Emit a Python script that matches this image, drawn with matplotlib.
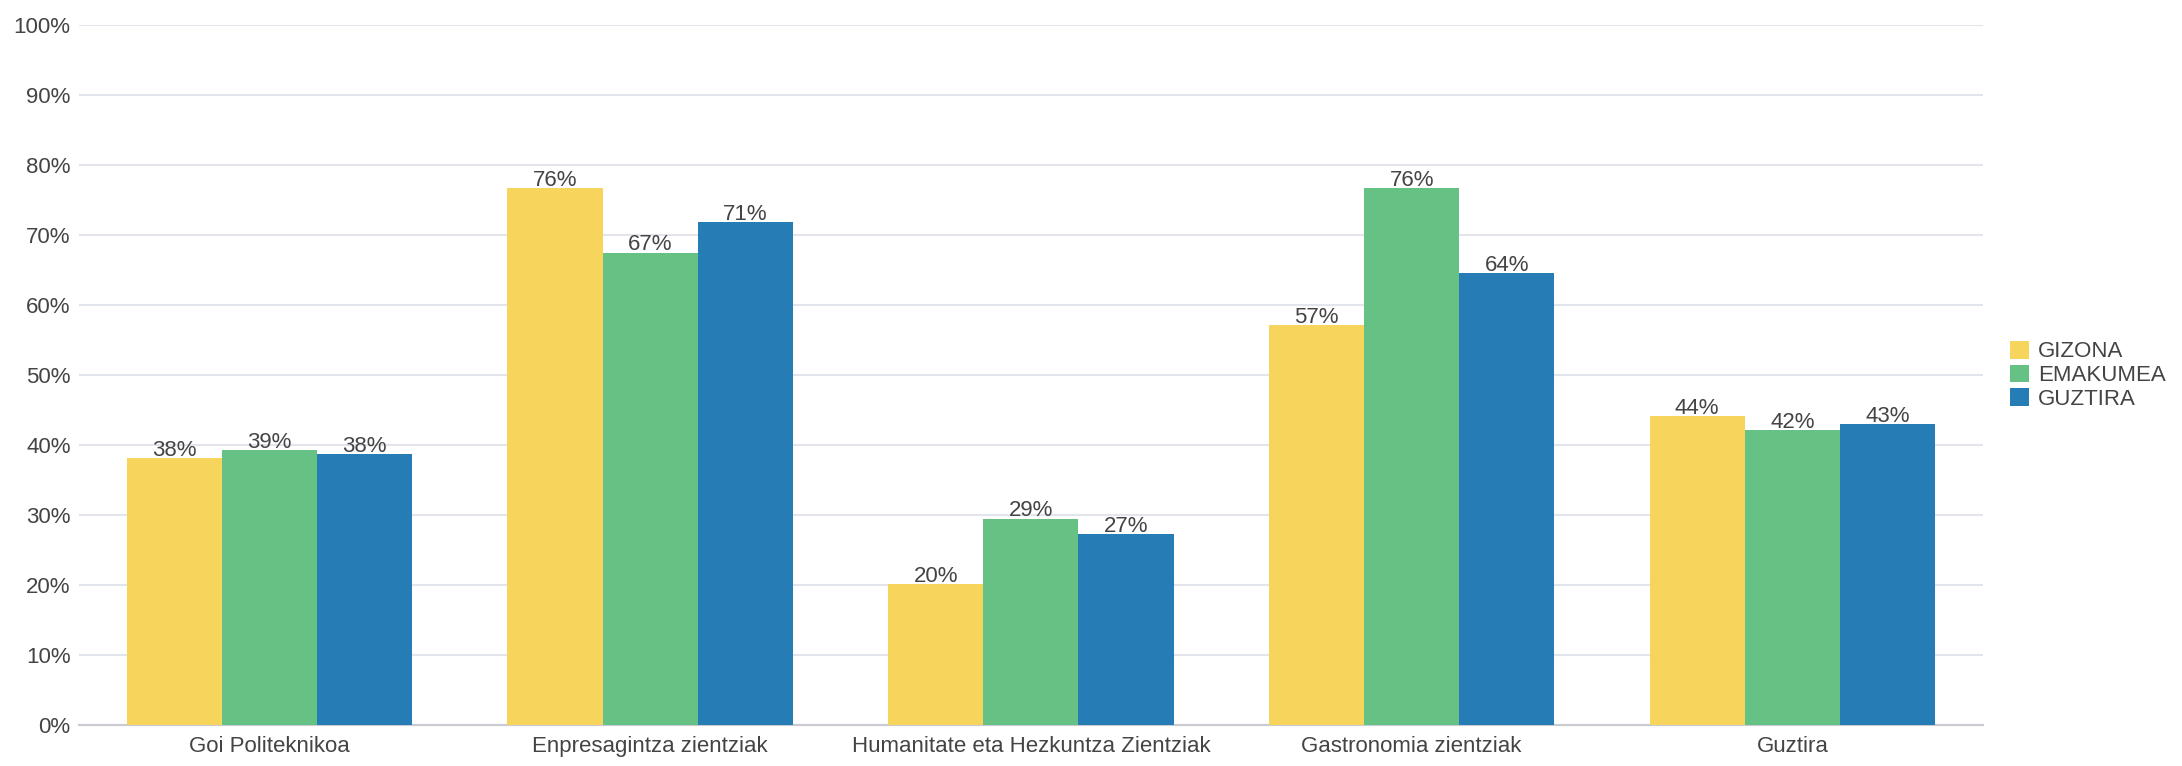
import numpy as np
import matplotlib.pyplot as plt

# data
categories = ['Goi Politeknikoa', 'Enpresagintza zientziak',
              'Humanitate eta Hezkuntza Zientziak', 'Gastronomia zientziak', 'Guztira']
gizona = [38.1, 76.7, 20.1, 57.2, 44.1]
emakumea = [39.3, 67.5, 29.5, 76.7, 42.2]
guztira = [38.7, 71.9, 27.3, 64.6, 43.0]
series_names = ['GIZONA', 'EMAKUMEA', 'GUZTIRA']
colors = ['#F7D55C', '#66C184', '#267CB4']

plt.rcParams['font.family'] = ['Liberation Sans', 'DejaVu Sans']
txt_col = '#444444'

fig = plt.figure(figsize=(21.82, 7.66), dpi=100)
ax = fig.add_axes([0.0362, 0.0535, 0.8725, 0.9135])

x = np.arange(len(categories))
w = 0.25
for i, (vals, name) in enumerate(zip([gizona, emakumea, guztira], series_names)):
    pos = x + (i - 1) * w
    bars = ax.bar(pos, vals, width=w, color=colors[i], label=name, zorder=3)
    for b, v in zip(bars, vals):
        ax.text(b.get_x() + b.get_width() / 2, v - 0.4, '%d%%' % int(v),
                ha='center', va='bottom', fontsize=16, color=txt_col, zorder=4)

ax.set_xlim(-0.5, len(categories) - 0.5)
ax.set_ylim(0, 100)
ax.set_yticks(np.arange(0, 101, 10))
ax.set_yticklabels(['%d%%' % t for t in range(0, 101, 10)])
ax.set_xticks(x)
ax.set_xticklabels(categories)
ax.tick_params(axis='both', length=0, labelsize=16, colors=txt_col)
ax.tick_params(axis='y', pad=6)
ax.tick_params(axis='x', pad=8)
ax.grid(axis='y', color='#E2E6EC', linewidth=1.5, zorder=0)
for s in ['top', 'right', 'left']:
    ax.spines[s].set_visible(False)
ax.spines['bottom'].set_color('#C8CCD2')
ax.spines['bottom'].set_linewidth(1.5)

leg = fig.legend(loc='center left', bbox_to_anchor=(0.912, 0.51), frameon=False,
                 fontsize=16, handlelength=0.85, handleheight=0.85, handletextpad=0.4,
                 labelspacing=0.1)
for t in leg.get_texts():
    t.set_color(txt_col)

plt.savefig('out.png', dpi=100)
